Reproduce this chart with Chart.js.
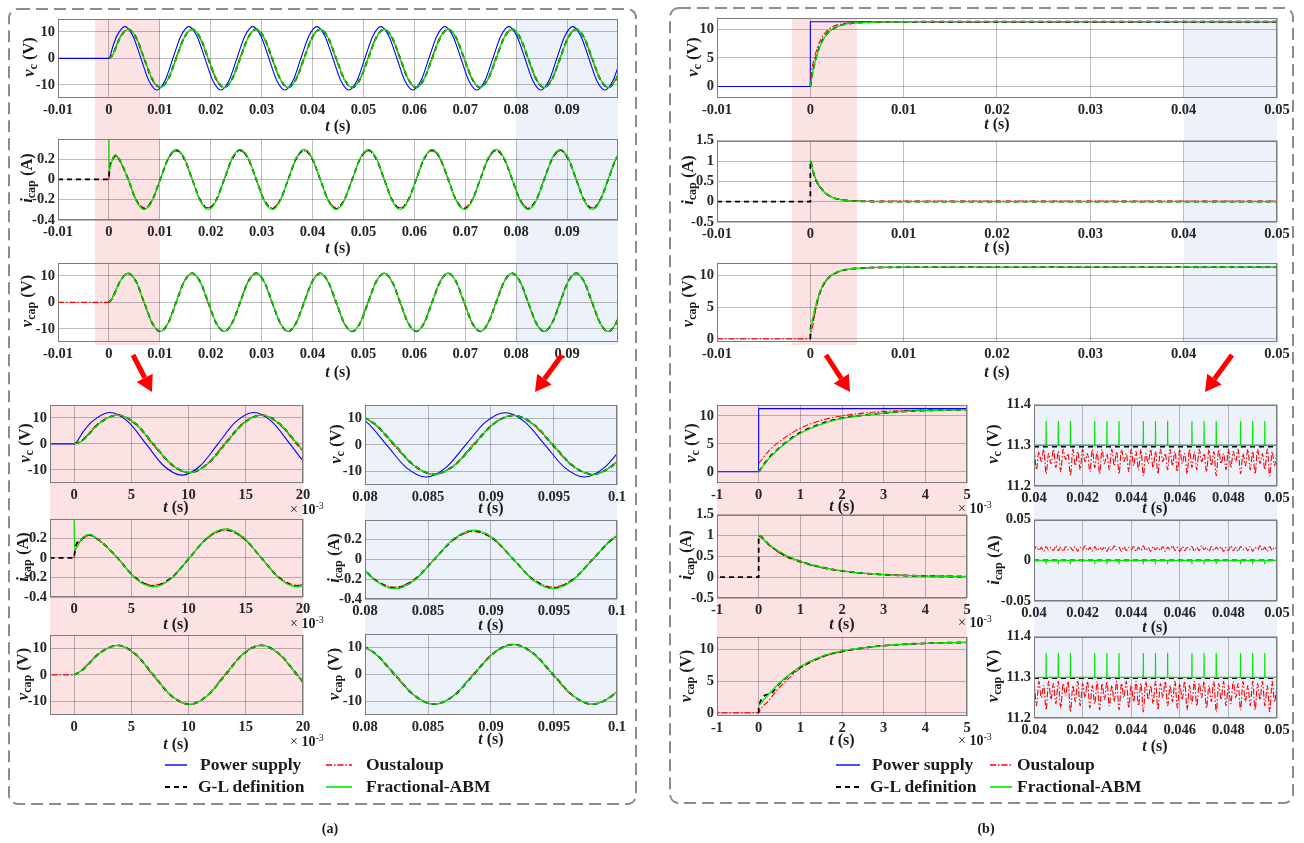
<!DOCTYPE html>
<html><head><meta charset="utf-8">
<script src="https://cdn.jsdelivr.net/npm/chart.js@4.4.1/dist/chart.umd.min.js"></script>
<style>
html,body{margin:0;padding:0;background:#fff;}
#root{position:relative;width:1304px;height:843px;overflow:hidden;font-family:"Liberation Serif","Times New Roman",serif;color:#1a1a1a;}
.band{position:absolute;}
canvas{position:absolute;}
.t{position:absolute;white-space:nowrap;font-weight:bold;line-height:1;}
.yt{transform:translate(-50%,-50%) rotate(-90deg);font-size:16.5px;}
.yt sub{font-size:12px;vertical-align:-3px;}
.xt{transform:translate(-50%,-50%);font-size:16px;}
.e3{transform:translate(0,-50%);font-size:14px;font-weight:normal;}
.e3 b{font-weight:bold;}
.e3 sup{font-size:10px;vertical-align:5px;}
.leg{transform:translate(0,-50%);font-size:17.5px;}
.pl{transform:translate(-50%,-50%);font-size:14px;}
svg{position:absolute;left:0;top:0;}
</style></head>
<body><div id="root"></div>
<script>
// ================= DATA (times in ms) =================
// ---- Panel (a): sinusoidal supply ----
const tSupA = [-10,
  0, 1.57, 3.14, 4.71, 6.29, 7.86, 9.43, 11.0,
  12.57, 14.14, 15.71, 17.28, 18.86, 20.43, 22.0, 23.57,
  25.14, 26.71, 28.28, 29.85, 31.43, 33.0, 34.57, 36.14,
  37.71, 39.28, 40.85, 42.42, 44.0, 45.57, 47.14, 48.71,
  50.28, 51.85, 53.42, 54.99, 56.57, 58.14, 59.71, 61.28,
  62.85, 64.42, 65.99, 67.56, 69.14, 70.71, 72.28, 73.85,
  75.42, 76.99, 78.56, 80.13, 81.71, 83.28, 84.85, 86.42,
  87.99, 89.56, 91.13, 92.7, 94.28, 95.85, 97.42, 98.99,
  100.56];
const vcSupA = [0,
  0, 8.5, 12, 8.5, 0, -8.5, -12, -8.5,
  0, 8.5, 12, 8.5, 0, -8.5, -12, -8.5,
  0, 8.5, 12, 8.5, 0, -8.5, -12, -8.5,
  0, 8.5, 12, 8.5, 0, -8.5, -12, -8.5,
  0, 8.5, 12, 8.5, 0, -8.5, -12, -8.5,
  0, 8.5, 12, 8.5, 0, -8.5, -12, -8.5,
  0, 8.5, 12, 8.5, 0, -8.5, -12, -8.5,
  0, 8.5, 12, 8.5, 0, -8.5, -12, -8.5,
  0];
const supHeadTA = [0.79], supHeadVA = [4.6];

const tLagA = [
  0.65, 2.22, 3.79, 5.36, 6.93, 8.51, 10.08, 11.65,
  13.22, 14.79, 16.36, 17.93, 19.51, 21.08, 22.65, 24.22,
  25.79, 27.36, 28.93, 30.5, 32.08, 33.65, 35.22, 36.79,
  38.36, 39.93, 41.5, 43.07, 44.65, 46.22, 47.79, 49.36,
  50.93, 52.5, 54.07, 55.64, 57.22, 58.79, 60.36, 61.93,
  63.5, 65.07, 66.64, 68.21, 69.79, 71.36, 72.93, 74.5,
  76.07, 77.64, 79.21, 80.78, 82.36, 83.93, 85.5, 87.07,
  88.64, 90.21, 91.78, 93.35, 94.93, 96.5, 98.07, 99.64,
  101.21];
const vcGLA = [
  1.0, 7.9, 11, 7.8, 0, -7.8, -11, -7.8,
  0, 7.8, 11, 7.8, 0, -7.8, -11, -7.8,
  0, 7.8, 11, 7.8, 0, -7.8, -11, -7.8,
  0, 7.8, 11, 7.8, 0, -7.8, -11, -7.8,
  0, 7.8, 11, 7.8, 0, -7.8, -11, -7.8,
  0, 7.8, 11, 7.8, 0, -7.8, -11, -7.8,
  0, 7.8, 11, 7.8, 0, -7.8, -11, -7.8,
  0, 7.8, 11, 7.8, 0, -7.8, -11, -7.8,
  0];
const vcOuA = [
  1.3, 8.2, 11.05, 7.5, -0.5, -8.1, -11.05, -7.5,
  0.5, 8.1, 11.05, 7.5, -0.5, -8.1, -11.05, -7.5,
  0.5, 8.1, 11.05, 7.5, -0.5, -8.1, -11.05, -7.5,
  0.5, 8.1, 11.05, 7.5, -0.5, -8.1, -11.05, -7.5,
  0.5, 8.1, 11.05, 7.5, -0.5, -8.1, -11.05, -7.5,
  0.5, 8.1, 11.05, 7.5, -0.5, -8.1, -11.05, -7.5,
  0.5, 8.1, 11.05, 7.5, -0.5, -8.1, -11.05, -7.5,
  0.5, 8.1, 11.05, 7.5, -0.5, -8.1, -11.05, -7.5,
  0.5];
const vcAbA = [
  0.9, 7.9, 11, 7.8, 0, -7.8, -11, -7.8,
  0, 7.8, 11, 7.8, 0, -7.8, -11, -7.8,
  0, 7.8, 11, 7.8, 0, -7.8, -11, -7.8,
  0, 7.8, 11, 7.8, 0, -7.8, -11, -7.8,
  0, 7.8, 11, 7.8, 0, -7.8, -11, -7.8,
  0, 7.8, 11, 7.8, 0, -7.8, -11, -7.8,
  0, 7.8, 11, 7.8, 0, -7.8, -11, -7.8,
  0, 7.8, 11, 7.8, 0, -7.8, -11, -7.8,
  0];
const icGLA = [
  0.19, 0.18, 0, -0.205, -0.29, -0.205, 0, 0.205,
  0.29, 0.205, 0, -0.205, -0.29, -0.205, 0, 0.205,
  0.29, 0.205, 0, -0.205, -0.29, -0.205, 0, 0.205,
  0.29, 0.205, 0, -0.205, -0.29, -0.205, 0, 0.205,
  0.29, 0.205, 0, -0.205, -0.29, -0.205, 0, 0.205,
  0.29, 0.205, 0, -0.205, -0.29, -0.205, 0, 0.205,
  0.29, 0.205, 0, -0.205, -0.29, -0.205, 0, 0.205,
  0.29, 0.205, 0, -0.205, -0.29, -0.205, 0, 0.205,
  0.29];
const icOuA = [
  0.18, 0.17, 0, -0.2, -0.28, -0.2, 0, 0.2,
  0.28, 0.2, 0, -0.2, -0.28, -0.2, 0, 0.2,
  0.28, 0.2, 0, -0.2, -0.28, -0.2, 0, 0.2,
  0.28, 0.2, 0, -0.2, -0.28, -0.2, 0, 0.2,
  0.28, 0.2, 0, -0.2, -0.28, -0.2, 0, 0.2,
  0.28, 0.2, 0, -0.2, -0.28, -0.2, 0, 0.2,
  0.28, 0.2, 0, -0.2, -0.28, -0.2, 0, 0.2,
  0.28, 0.2, 0, -0.2, -0.28, -0.2, 0, 0.2,
  0.28];
const icAbA = [
  0.19, 0.18, 0, -0.21, -0.295, -0.21, 0, 0.21,
  0.295, 0.21, 0, -0.21, -0.295, -0.21, 0, 0.21,
  0.295, 0.21, 0, -0.21, -0.295, -0.21, 0, 0.21,
  0.295, 0.21, 0, -0.21, -0.295, -0.21, 0, 0.21,
  0.295, 0.21, 0, -0.21, -0.295, -0.21, 0, 0.21,
  0.295, 0.21, 0, -0.21, -0.295, -0.21, 0, 0.21,
  0.295, 0.21, 0, -0.21, -0.295, -0.21, 0, 0.21,
  0.295, 0.21, 0, -0.21, -0.295, -0.21, 0, 0.21,
  0.295];
const icHeadTGLA = [-10, 0, 0.1, 1.3], icHeadVGLA = [0, 0, 0.1, 0.235];
const icHeadTOuA = [0, 0.1, 1.3], icHeadVOuA = [0, 0.09, 0.23];
const icHeadTAbA = [0, 0.04, 1.3], icHeadVAbA = [0.6, 0.08, 0.24];
const vpGLA = [
  1.5, 8.0, 11, 7.8, 0, -7.8, -11, -7.8,
  0, 7.8, 11, 7.8, 0, -7.8, -11, -7.8,
  0, 7.8, 11, 7.8, 0, -7.8, -11, -7.8,
  0, 7.8, 11, 7.8, 0, -7.8, -11, -7.8,
  0, 7.8, 11, 7.8, 0, -7.8, -11, -7.8,
  0, 7.8, 11, 7.8, 0, -7.8, -11, -7.8,
  0, 7.8, 11, 7.8, 0, -7.8, -11, -7.8,
  0, 7.8, 11, 7.8, 0, -7.8, -11, -7.8,
  0];
const vpOuA = [
  1.8, 8.2, 11.05, 7.6, -0.4, -8.0, -11.05, -7.6,
  0.4, 8.0, 11.05, 7.6, -0.4, -8.0, -11.05, -7.6,
  0.4, 8.0, 11.05, 7.6, -0.4, -8.0, -11.05, -7.6,
  0.4, 8.0, 11.05, 7.6, -0.4, -8.0, -11.05, -7.6,
  0.4, 8.0, 11.05, 7.6, -0.4, -8.0, -11.05, -7.6,
  0.4, 8.0, 11.05, 7.6, -0.4, -8.0, -11.05, -7.6,
  0.4, 8.0, 11.05, 7.6, -0.4, -8.0, -11.05, -7.6,
  0.4, 8.0, 11.05, 7.6, -0.4, -8.0, -11.05, -7.6,
  0.4];
const vpAbA = [
  1.5, 8.0, 11, 7.8, 0, -7.8, -11, -7.8,
  0, 7.8, 11, 7.8, 0, -7.8, -11, -7.8,
  0, 7.8, 11, 7.8, 0, -7.8, -11, -7.8,
  0, 7.8, 11, 7.8, 0, -7.8, -11, -7.8,
  0, 7.8, 11, 7.8, 0, -7.8, -11, -7.8,
  0, 7.8, 11, 7.8, 0, -7.8, -11, -7.8,
  0, 7.8, 11, 7.8, 0, -7.8, -11, -7.8,
  0, 7.8, 11, 7.8, 0, -7.8, -11, -7.8,
  0];

// ---- Panel (b): step supply ----
const tSupB = [-10, 0, 0.001, 50], vcSupB = [0, 0, 11.3, 11.3];
const tB = [0.001, 0.25, 0.5, 0.75, 1, 1.5, 2, 2.5, 3, 3.5, 4, 4.5, 5, 6, 7, 8, 10, 15, 20, 30];
const vcGLB = [0, 2.5, 4.3, 5.8, 7.0, 8.6, 9.6, 10.1, 10.5, 10.8, 10.95, 11.05, 11.1, 11.2, 11.24, 11.27, 11.285, 11.295, 11.297, 11.297];
const vcOuB = [1.5, 3.8, 5.4, 6.7, 7.8, 9.2, 10.0, 10.5, 10.8, 10.95, 11.05, 11.1, 11.15, 11.2, 11.23, 11.25, 11.26, 11.27, 11.27, 11.27];
const vcAbB = [0, 2.4, 4.2, 5.7, 6.9, 8.5, 9.55, 10.1, 10.5, 10.8, 10.95, 11.05, 11.1, 11.2, 11.25, 11.27, 11.29, 11.3, 11.3, 11.3];
const icGLB = [1.0, 0.78, 0.6, 0.47, 0.38, 0.24, 0.15, 0.095, 0.06, 0.04, 0.027, 0.018, 0.012, 0.006, 0.003, 0.0015, 0.0005, 0, 0, 0];
const icOuB = [1.0, 0.77, 0.58, 0.45, 0.36, 0.225, 0.145, 0.095, 0.065, 0.045, 0.033, 0.025, 0.02, 0.017, 0.016, 0.015, 0.015, 0.014, 0.014, 0.014];
const icAbB = [1.02, 0.79, 0.61, 0.48, 0.38, 0.24, 0.15, 0.095, 0.06, 0.04, 0.027, 0.018, 0.012, 0.006, 0.003, 0.0015, 0.0005, 0, 0, 0];
const vpGLB = [1.0, 2.9, 4.6, 6.0, 7.2, 8.8, 9.7, 10.2, 10.6, 10.8, 10.95, 11.05, 11.1, 11.2, 11.25, 11.27, 11.29, 11.297, 11.298, 11.298];
const vpOuB = [0.02, 2.0, 4.0, 5.6, 7.0, 8.7, 9.65, 10.2, 10.55, 10.8, 10.95, 11.05, 11.1, 11.17, 11.21, 11.23, 11.25, 11.26, 11.26, 11.26];
const vpAbB = [1.1, 3.0, 4.7, 6.1, 7.3, 8.85, 9.75, 10.25, 10.6, 10.8, 10.95, 11.05, 11.1, 11.2, 11.25, 11.28, 11.29, 11.3, 11.3, 11.3];
// steady state 40-50 ms: Oustaloup ripple, Fractional-ABM spikes
const tRip = [
  40, 40.1, 40.2, 40.3, 40.4, 40.5, 40.6, 40.7, 40.8, 40.9,
  41, 41.1, 41.2, 41.3, 41.4, 41.5, 41.6, 41.7, 41.8, 41.9,
  42, 42.1, 42.2, 42.3, 42.4, 42.5, 42.6, 42.7, 42.8, 42.9,
  43, 43.1, 43.2, 43.3, 43.4, 43.5, 43.6, 43.7, 43.8, 43.9,
  44, 44.1, 44.2, 44.3, 44.4, 44.5, 44.6, 44.7, 44.8, 44.9,
  45, 45.1, 45.2, 45.3, 45.4, 45.5, 45.6, 45.7, 45.8, 45.9,
  46, 46.1, 46.2, 46.3, 46.4, 46.5, 46.6, 46.7, 46.8, 46.9,
  47, 47.1, 47.2, 47.3, 47.4, 47.5, 47.6, 47.7, 47.8, 47.9,
  48, 48.1, 48.2, 48.3, 48.4, 48.5, 48.6, 48.7, 48.8, 48.9,
  49, 49.1, 49.2, 49.3, 49.4, 49.5, 49.6, 49.7, 49.8, 49.9,
  50];
const vcOuRip = [
  11.29,11.24,11.285,11.26,11.29,11.23,11.28,11.255,11.29,11.245,
  11.285,11.235,11.29,11.265,11.28,11.225,11.29,11.25,11.285,11.24,
  11.29,11.26,11.28,11.235,11.29,11.245,11.285,11.23,11.29,11.255,
  11.28,11.24,11.29,11.25,11.285,11.23,11.29,11.26,11.28,11.235,
  11.29,11.25,11.285,11.24,11.29,11.225,11.28,11.255,11.29,11.245,
  11.285,11.23,11.29,11.26,11.28,11.24,11.29,11.25,11.285,11.235,
  11.29,11.255,11.28,11.23,11.29,11.245,11.285,11.24,11.29,11.26,
  11.28,11.235,11.29,11.25,11.285,11.225,11.29,11.255,11.28,11.24,
  11.29,11.245,11.285,11.26,11.29,11.23,11.28,11.25,11.29,11.24,
  11.285,11.23,11.29,11.255,11.28,11.24,11.29,11.225,11.285,11.25,
  11.29];
const vpOuRip = [
  11.285,11.23,11.29,11.25,11.28,11.22,11.29,11.245,11.285,11.235,
  11.29,11.225,11.285,11.255,11.29,11.215,11.28,11.24,11.29,11.23,
  11.285,11.25,11.29,11.225,11.28,11.235,11.29,11.22,11.285,11.245,
  11.29,11.23,11.28,11.24,11.29,11.22,11.285,11.25,11.29,11.225,
  11.28,11.24,11.29,11.23,11.285,11.215,11.29,11.245,11.28,11.235,
  11.29,11.22,11.285,11.25,11.29,11.23,11.28,11.24,11.29,11.225,
  11.285,11.245,11.29,11.22,11.28,11.235,11.29,11.23,11.285,11.25,
  11.29,11.225,11.28,11.24,11.29,11.215,11.285,11.245,11.29,11.23,
  11.28,11.235,11.29,11.25,11.285,11.22,11.29,11.24,11.28,11.23,
  11.29,11.22,11.285,11.245,11.29,11.23,11.28,11.215,11.29,11.24,
  11.285];
const icOuRip = [
  0.013,0.017,0.012,0.016,0.011,0.017,0.013,0.016,0.012,0.018,
  0.012,0.016,0.011,0.017,0.013,0.016,0.012,0.017,0.011,0.016,
  0.013,0.018,0.012,0.016,0.011,0.017,0.012,0.016,0.013,0.017,
  0.011,0.016,0.012,0.018,0.013,0.016,0.011,0.017,0.012,0.016,
  0.013,0.017,0.011,0.016,0.012,0.018,0.012,0.016,0.011,0.017,
  0.013,0.016,0.012,0.017,0.011,0.016,0.013,0.018,0.012,0.016,
  0.011,0.017,0.012,0.016,0.013,0.017,0.011,0.016,0.012,0.018,
  0.013,0.016,0.011,0.017,0.012,0.016,0.013,0.017,0.011,0.016,
  0.012,0.018,0.012,0.016,0.011,0.017,0.013,0.016,0.012,0.017,
  0.011,0.016,0.013,0.018,0.012,0.016,0.011,0.017,0.012,0.016,
  0.013];
const spikeT = [40, 40.5, 41, 41.5, 42.5, 43, 43.5, 44.5, 45, 45.5, 46.5, 47, 47.5, 48.5, 49, 49.5];
const abBaseV = 11.3, abPeakV = 11.36, abBaseI = 0, abPeakI = -0.0045;

// highlighted intervals (s)
const bandA1 = [-0.0028, 0.01], bandA2 = [0.08, 0.1];
const bandB1 = [-0.002, 0.005], bandB2 = [0.04, 0.05];

// ---- axes: ticks and labels ----
const xTicksTopA = [-0.01, 0, 0.01, 0.02, 0.03, 0.04, 0.05, 0.06, 0.07, 0.08, 0.09];
const xLabelsTopA = ['-0.01','0','0.01','0.02','0.03','0.04','0.05','0.06','0.07','0.08','0.09'];
const xTicksZA1 = [0, 0.005, 0.01, 0.015, 0.02], xLabelsZA1 = ['0','5','10','15','20'];
const xTicksZA2 = [0.08, 0.085, 0.09, 0.095, 0.1], xLabelsZA2 = ['0.08','0.085','0.09','0.095','0.1'];
const xTicksTopB = [-0.01, 0, 0.01, 0.02, 0.03, 0.04, 0.05];
const xLabelsTopB = ['-0.01','0','0.01','0.02','0.03','0.04','0.05'];
const xTicksZB1 = [-0.001, 0, 0.001, 0.002, 0.003, 0.004, 0.005], xLabelsZB1 = ['-1','0','1','2','3','4','5'];
const xTicksZB2 = [0.04, 0.042, 0.044, 0.046, 0.048, 0.05], xLabelsZB2 = ['0.04','0.042','0.044','0.046','0.048','0.05'];
const yTicksVA = [-10, 0, 10], yLabelsVA = ['-10','0','10'];
const yTicksIA = [-0.4, -0.2, 0, 0.2], yLabelsIA = ['-0.4','-0.2','0','0.2'];
const yTicksVB = [0, 5, 10], yLabelsVB = ['0','5','10'];
const yTicksIB = [-0.5, 0, 0.5, 1, 1.5], yLabelsIB = ['-0.5','0','0.5','1','1.5'];
const yTicksZVB = [11.2, 11.3, 11.4], yLabelsZVB = ['11.2','11.3','11.4'];
const yTicksZIB = [-0.05, 0, 0.05], yLabelsZIB = ['-0.05','0','0.05'];

// ================= BUILD =================
const root = document.getElementById('root');
const GRID = 'rgba(0,0,0,0.26)', FRAME = '#7d7d7d', TICKC = '#262626';
const PINK = '#fde2e4', LBLUE = '#ecf1fa';
const SUP = {borderColor:'#0000ff', borderWidth:1.1};
const GL = {borderColor:'#000000', borderWidth:1.8, borderDash:[5,4]};
const OU = {borderColor:'#ff0000', borderWidth:1.1, borderDash:[6,2,1.5,2]};
const AB = {borderColor:'#00e600', borderWidth:1.3};

const H = (ts, vs) => ts.map((t, i) => ({x: t / 1000, y: vs[i]}));
const J = (...parts) => parts.flat().sort((a, b) => a.x - b.x);
const SPK = (ts, base, peak) => ts.flatMap(t => [{x:(t-0.004)/1000, y:base}, {x:t/1000, y:peak}, {x:(t+0.004)/1000, y:base}]);

const SER = {
  vcA: [[AB, J(H([0],[0]), H(tLagA, vcAbA))], [GL, J(H([0],[0]), H(tLagA, vcGLA))], [OU, J(H([0],[0]), H(tLagA, vcOuA))], [SUP, J(H(supHeadTA, supHeadVA), H(tSupA, vcSupA))]],
  icA: [[AB, J(H(icHeadTAbA, icHeadVAbA), H(tLagA, icAbA))], [GL, J(H(icHeadTGLA, icHeadVGLA), H(tLagA, icGLA))], [OU, J(H(icHeadTOuA, icHeadVOuA), H(tLagA, icOuA))]],
  vpA: [[AB, J(H([0],[0]), H(tLagA, vpAbA))], [GL, J(H([0],[0]), H(tLagA, vpGLA))], [OU, J(H([-10,0],[0,0]), H(tLagA, vpOuA))]],
  vcB: [[AB, J(H(tB, vcAbB), SPK(spikeT, abBaseV, abPeakV), H([50],[11.3]))], [GL, J(H(tB, vcGLB), H([50],[11.297]))], [OU, J(H(tB, vcOuB), H(tRip, vcOuRip))], [SUP, H(tSupB, vcSupB)]],
  icB: [[AB, J(H(tB, icAbB), SPK(spikeT, abBaseI, abPeakI), H([50],[0]))], [GL, J(H([-10,0],[0,0]), H(tB, icGLB), H([50],[0]))], [OU, J(H(tB, icOuB), H(tRip, icOuRip))]],
  vpB: [[AB, J(H(tB, vpAbB), SPK(spikeT, abBaseV, abPeakV), H([50],[11.3]))], [GL, J(H([0],[0]), H(tB, vpGLB), H([50],[11.298]))], [OU, J(H([-10,0],[0,0]), H(tB, vpOuB), H(tRip, vpOuRip))]]
};
const XA = {
  topA: [[-0.01, 0.1], xTicksTopA, xLabelsTopA], zA1: [[-0.0021, 0.02], xTicksZA1, xLabelsZA1], zA2: [[0.08, 0.1], xTicksZA2, xLabelsZA2],
  topB: [[-0.01, 0.05], xTicksTopB, xLabelsTopB], zB1: [[-0.001, 0.005], xTicksZB1, xLabelsZB1], zB2: [[0.04, 0.05], xTicksZB2, xLabelsZB2]
};
const YA = {
  vA: [[-15, 15], yTicksVA, yLabelsVA], iA: [[-0.4, 0.4], yTicksIA, yLabelsIA],
  vB: [[-2, 12], yTicksVB, yLabelsVB], iB: [[-0.5, 1.5], yTicksIB, yLabelsIB], vpB: [[-0.5, 12], yTicksVB, yLabelsVB],
  zvB: [[11.2, 11.4], yTicksZVB, yLabelsZVB], ziB: [[-0.05, 0.05], yTicksZIB, yLabelsZIB]
};
const YTITLE = {vc: '<i>v</i><sub>c</sub> (V)', ic: '<i>i</i><sub>cap</sub> (A)', vp: '<i>v</i><sub>cap</sub> (V)'};

const SPECS = {
  A1: {plot:[58,17,618,98],    x:'topA', y:'vA',  s:'vcA', yt:[30,57,'vc'],   xt:[338,126]},
  A2: {plot:[58,137,618,220],  x:'topA', y:'iA',  s:'icA', yt:[28,178,'ic'],  xt:[338,248]},
  A3: {plot:[58,261,618,342],  x:'topA', y:'vA',  s:'vpA', yt:[28,301,'vp'],  xt:[338,372]},
  A4: {plot:[50,403,303,483],  x:'zA1',  y:'vA',  s:'vcA', yt:[26,443,'vc'],  xt:[176,507], e3:[290,509]},
  A5: {plot:[50,517,303,597],  x:'zA1',  y:'iA',  s:'icA', yt:[24,557,'ic'],  xt:[176,624], e3:[290,623]},
  A6: {plot:[50,633,303,715],  x:'zA1',  y:'vA',  s:'vpA', yt:[24,674,'vp'],  xt:[176,744], e3:[290,741]},
  A7: {plot:[365,403,617,485], x:'zA2',  y:'vA',  s:'vcA', yt:[337,444,'vc'], xt:[491,508]},
  A8: {plot:[365,518,617,599], x:'zA2',  y:'iA',  s:'icA', yt:[335,558,'ic'], xt:[491,625]},
  A9: {plot:[365,632,617,715], x:'zA2',  y:'vA',  s:'vpA', yt:[335,674,'vp'], xt:[491,739]},
  B1: {plot:[717,16,1277,98],   x:'topB', y:'vB',  s:'vcB', yt:[694,57,'vc'],  xt:[997,124]},
  B2: {plot:[717,139,1277,222], x:'topB', y:'iB',  s:'icB', yt:[689,180,'ic'], xt:[997,247]},
  B3: {plot:[717,261,1277,342], x:'topB', y:'vpB', s:'vpB', yt:[689,301,'vp'], xt:[997,372]},
  B4: {plot:[717,403,967,483],  x:'zB1',  y:'vB',  s:'vcB', yt:[692,443,'vc'], xt:[842,506], e3:[958,508]},
  B5: {plot:[717,513,967,598],  x:'zB1',  y:'iB',  s:'icB', yt:[687,555,'ic'], xt:[842,624], e3:[958,622]},
  B6: {plot:[717,635,967,716],  x:'zB1',  y:'vpB', s:'vpB', yt:[687,676,'vp'], xt:[842,740], e3:[958,740]},
  B7: {plot:[1034,403,1277,486], x:'zB2', y:'zvB', s:'vcB', yt:[994,444,'vc'], xt:[1155,508]},
  B8: {plot:[1034,518,1277,601], x:'zB2', y:'ziB', s:'icB', yt:[995,560,'ic'], xt:[1155,627]},
  B9: {plot:[1034,635,1277,718], x:'zB2', y:'zvB', s:'vpB', yt:[994,676,'vp'], xt:[1155,746]}
};

const YW = 46, PT = 10, PR = 26, XH = 44;
const framePlugin = {id:'frame', afterDraw(c) {
  const a = c.chartArea, x = c.ctx;
  x.save(); x.strokeStyle = FRAME; x.lineWidth = 1;
  x.strokeRect(Math.round(a.left) + 0.5, Math.round(a.top) + 0.5, Math.round(a.right - a.left) - 1, Math.round(a.bottom - a.top) - 1);
  x.restore();
}};

function addDiv(cls, x, y, html) {
  const d = document.createElement('div');
  d.className = cls; d.style.left = x + 'px'; d.style.top = y + 'px'; d.innerHTML = html;
  root.appendChild(d); return d;
}

const CH = {};
const tickFont = {family: '"Liberation Serif", "Times New Roman", serif', size: 14.5, weight: 'bold'};
function makeChart(key) {
  const s = SPECS[key];
  const [l, t, r, b] = s.plot;
  const [xr, xt, xl] = XA[s.x];
  const [yr, yt, yl] = YA[s.y];
  const cv = document.createElement('canvas');
  const w = YW + (r - l) + PR, h = PT + (b - t) + XH;
  cv.width = w; cv.height = h;
  cv.style.left = (l - YW) + 'px'; cv.style.top = (t - PT) + 'px';
  cv.style.width = w + 'px'; cv.style.height = h + 'px';
  root.appendChild(cv);
  const datasets = SER[s.s].map(([st, d]) => Object.assign({data: d.slice(), pointRadius: 0, fill: false}, st));
  const ch = new Chart(cv, {
    type: 'line',
    data: {datasets},
    options: {
      responsive: false, animation: false, devicePixelRatio: 1, events: [],
      layout: {padding: {top: PT, right: PR, left: 0, bottom: 0}},
      plugins: {legend: {display: false}, tooltip: {enabled: false}},
      elements: {point: {radius: 0}, line: {cubicInterpolationMode: 'monotone'}},
      scales: {
        x: {type: 'linear', min: xr[0], max: xr[1],
            afterBuildTicks: ax => { ax.ticks = xt.map(v => ({value: v})); },
            afterFit: ax => { ax.height = XH; },
            grid: {color: GRID, drawTicks: false, lineWidth: 1},
            border: {display: false},
            ticks: {font: tickFont, color: TICKC, padding: 4, maxRotation: 0, autoSkip: false, callback: (v, i) => xl[i]}},
        y: {type: 'linear', min: yr[0], max: yr[1],
            afterBuildTicks: ax => { ax.ticks = yt.map(v => ({value: v})); },
            afterFit: ax => { ax.width = YW; },
            grid: {color: GRID, drawTicks: false, lineWidth: 1},
            border: {display: false},
            ticks: {font: tickFont, color: TICKC, padding: 3, autoSkip: false, callback: (v, i) => yl[i]}}
      }
    },
    plugins: [framePlugin]
  });
  CH[key] = {chart: ch, left: l - YW, top: t - PT};
  return ch;
}

Object.keys(SPECS).forEach(makeChart);

function px(key, v) { const c = CH[key]; return c.left + c.chart.scales.x.getPixelForValue(v); }
function area(key) { const c = CH[key], a = c.chart.chartArea; return {l: c.left + a.left, r: c.left + a.right, t: c.top + a.top, b: c.top + a.bottom}; }
function bandBehind(l, t, r, b, color) {
  const d = document.createElement('div');
  d.className = 'band';
  Object.assign(d.style, {left: l + 'px', top: t + 'px', width: (r - l) + 'px', height: (b - t) + 'px', background: color});
  root.insertBefore(d, root.firstChild);
}
bandBehind(px('A1', bandA1[0]), area('A1').t, px('A1', bandA1[1]), area('A3').b + 3, PINK);
bandBehind(px('A1', bandA2[0]), area('A1').t, px('A1', bandA2[1]), area('A3').b + 3, LBLUE);
bandBehind(px('B1', bandB1[0]), area('B1').t, px('B1', bandB1[1]), area('B3').b + 3, PINK);
bandBehind(px('B1', bandB2[0]), area('B1').t, px('B1', bandB2[1]), area('B3').b + 3, LBLUE);
bandBehind(area('A4').l, area('A4').t, area('A4').r, area('A6').b, PINK);
bandBehind(area('A7').l, area('A7').t, area('A7').r, area('A9').b, LBLUE);
bandBehind(area('B4').l, area('B4').t, area('B4').r, area('B6').b, PINK);
bandBehind(area('B7').l, area('B7').t, area('B7').r, area('B9').b, LBLUE);

Object.values(SPECS).forEach(s => {
  addDiv('t yt', s.yt[0], s.yt[1], YTITLE[s.yt[2]]);
  addDiv('t xt', s.xt[0], s.xt[1], '<i>t</i> (s)');
  if (s.e3) addDiv('t e3', s.e3[0], s.e3[1], '× <b>10</b><sup>-3</sup>');
});

addDiv('t leg', 200, 765, 'Power supply');
addDiv('t leg', 198, 787, 'G-L definition');
addDiv('t leg', 366, 765, 'Oustaloup');
addDiv('t leg', 366, 787, 'Fractional-ABM');
addDiv('t leg', 872, 765, 'Power supply');
addDiv('t leg', 870, 787, 'G-L definition');
addDiv('t leg', 1017, 765, 'Oustaloup');
addDiv('t leg', 1017, 787, 'Fractional-ABM');
addDiv('t pl', 330, 829, '(a)');
addDiv('t pl', 986, 829, '(b)');

const NS = 'http://www.w3.org/2000/svg';
const svg = document.createElementNS(NS, 'svg');
svg.setAttribute('width', 1304); svg.setAttribute('height', 843);
function el(tag, attrs) { const e = document.createElementNS(NS, tag); for (const k in attrs) e.setAttribute(k, attrs[k]); svg.appendChild(e); return e; }
el('rect', {x: 9, y: 9, width: 627, height: 795, rx: 9, fill: 'none', stroke: '#8c8c8c', 'stroke-width': 2, 'stroke-dasharray': '12 6'});
el('rect', {x: 670, y: 8, width: 623, height: 795, rx: 9, fill: 'none', stroke: '#8c8c8c', 'stroke-width': 2, 'stroke-dasharray': '12 6'});
function arrow(x1, y1, x2, y2) {
  const dx = x2 - x1, dy = y2 - y1, L = Math.hypot(dx, dy), ux = dx / L, uy = dy / L;
  const hl = 16, hw = 9;
  const bx = x2 - ux * hl, by = y2 - uy * hl;
  el('line', {x1, y1, x2: bx, y2: by, stroke: '#ff0000', 'stroke-width': 5});
  el('polygon', {points: `${x2},${y2} ${bx - uy * hw},${by + ux * hw} ${bx + uy * hw},${by - ux * hw}`, fill: '#ff0000'});
}
arrow(133, 355, 152, 392);
arrow(562, 355, 535, 392);
arrow(826, 355, 850, 392);
arrow(1232, 355, 1205, 392);
function swatch(x1, x2, y, st) {
  const a = {x1, y1: y, x2, y2: y, stroke: st.borderColor, 'stroke-width': st.borderWidth + 0.3};
  if (st.borderDash) a['stroke-dasharray'] = st.borderDash.join(' ');
  el('line', a);
}
swatch(165, 187, 765, SUP); swatch(165, 187, 787, GL); swatch(326, 352, 765, OU); swatch(326, 352, 787, AB);
swatch(836, 860, 765, SUP); swatch(836, 860, 787, GL); swatch(990, 1012, 765, OU); swatch(990, 1012, 787, AB);
root.appendChild(svg);
</script></body></html>
